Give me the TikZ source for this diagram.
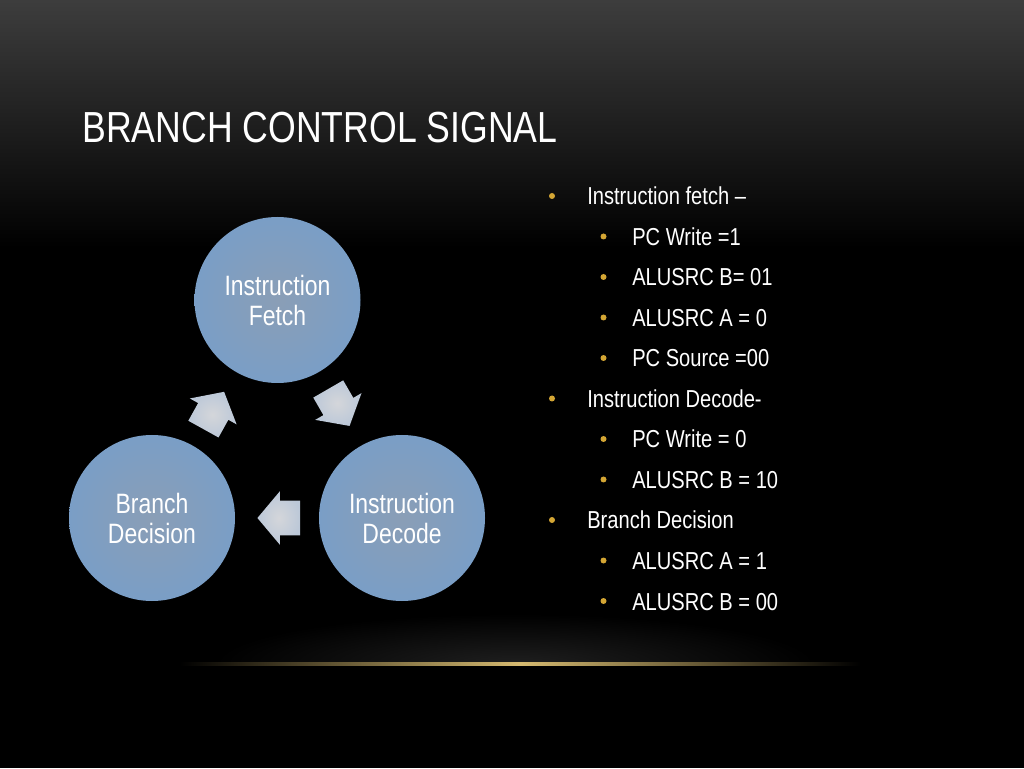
\documentclass[tikz,border=0pt]{standalone}
\usepackage{fontspec}
\setmainfont[FakeStretch=0.82]{Liberation Sans}
\usetikzlibrary{shapes.arrows,calc}
\definecolor{gold}{RGB}{212,166,52}
\definecolor{stageout}{RGB}{122,158,198}
\definecolor{stagein}{RGB}{138,158,182}
\definecolor{flowout}{RGB}{188,200,216}
\definecolor{flowin}{RGB}{212,214,218}
\tikzset{
  stage/.style={circle, minimum size=124.5pt, inner sep=0pt, shade, inner color=stagein, outer color=stageout,
    text=white, align=center, font=\fontsize{21}{22.5}\selectfont},
  flow/.style={single arrow, minimum height=32pt, inner xsep=0pt, inner ysep=12.75pt, single arrow head extend=7.1pt,
    single arrow tip angle=100, shade, inner color=flowin, outer color=flowout},
  dot/.style={circle, fill=gold, inner sep=0pt, minimum size=4.5pt},
  item/.style={anchor=base west, inner sep=0pt, text=white, font=\fontsize{18.4}{20}\selectfont}
}
\begin{document}
\begin{tikzpicture}[x=0.75pt, y=0.75pt]
	\useasboundingbox (0,0) rectangle (1024,768);
	\fill[black] (0,0) rectangle (1024,768);
	\shade[top color=black!76, bottom color=black] (0,768) rectangle (1024,520);
	\begin{scope}
		\clip (0,104) rectangle (1024,200);
		\shade[inner color=black!88, outer color=black] (515,104) ellipse (300 and 50);
	\end{scope}
	\shade[left color=black, right color=black, middle color={rgb,255:red,214;green,186;blue,112}] (180,102.5) rectangle (860,105.5);

	\node[anchor=base west, inner sep=0pt, text=white, font=\fontsize{32.6}{34}\selectfont] (title) at (82,625) {BRANCH CONTROL SIGNAL};

	\node[stage] (fetch) at (277.5,468) {Instruction\\Fetch};
	\node[stage] (decode) at (402,250) {Instruction\\Decode};
	\node[stage] (branch) at (152,250) {Branch\\Decision};

	\node[flow, rotate=-60] (fd) at ($(fetch)!0.5!(decode)!6.75pt!(fetch)$) {};
	\node[flow, rotate=180] (db) at ($(decode)!0.5!(branch)!6.75pt!(decode)$) {};
	\node[flow, rotate=61] (bf) at ($(branch)!0.5!(fetch)!6.75pt!(branch)$) {};

	\foreach \i/\dx/\tx/\txt in {0/552/587/Instruction fetch –, 1/603.5/632/PC Write =1, 2/603.5/632/ALUSRC B= 01,
		3/603.5/632/ALUSRC A = 0, 4/603.5/632/PC Source =00, 5/552/587/Instruction Decode-,
		6/603.5/632/PC Write = 0, 7/603.5/632/ALUSRC B = 10, 8/552/587/Branch Decision,
		9/603.5/632/ALUSRC A = 1, 10/603.5/632/ALUSRC B = 00}
		{
			\node[dot] (b\i) at (\dx, 572-40.5*\i) {};
			\node[item] (t\i) at (\tx, 563-40.5*\i) {\txt};
		}
\end{tikzpicture}
\end{document}
